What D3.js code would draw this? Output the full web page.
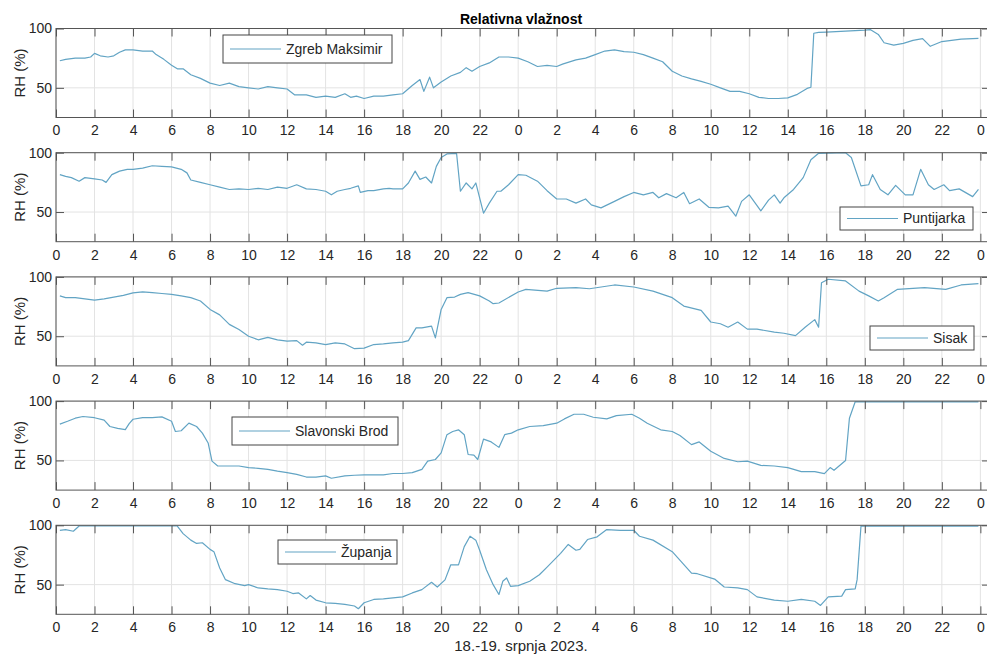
<!DOCTYPE html>
<html>
<head>
<meta charset="utf-8">
<script src="https://cdn.jsdelivr.net/npm/d3@7"></script>
<style>
  body { margin: 0; background: #fff; }
  svg { font-family: "Liberation Sans", Arial, sans-serif; }
</style>
</head>
<body>
<svg id="chart" width="987" height="655"></svg>
<script>
// station names, one panel each (top to bottom)
const stations = ["Zgreb Maksimir", "Puntijarka", "Sisak", "Slavonski Brod", "Županja"]

// [hours since 18.7. 00h, RH %]
const zagreb = [[0.2,72.8],[0.5,74],[1,75],[1.5,75],[1.8,76],[2,79],[2.3,77],[2.7,76],[3,77],[3.3,80],[3.6,82],[4,82],[4.5,81],[5,81],[5.2,78],[5.6,74],[6,69],[6.3,66],[6.6,66],[7,61],[7.5,58],[8,54],[8.5,52],[9,54],[9.5,51],[10,50],[10.5,49],[11,51],[11.5,50],[12,49],[12.4,44],[13,44],[13.5,42],[14,43],[14.5,42],[15,45],[15.3,42],[15.6,43],[16,41],[16.5,43],[17,43],[17.5,44],[18,45],[18.5,52],[18.9,57],[19.1,47],[19.4,59],[19.6,50],[20,55],[20.5,60],[21,63],[21.3,67],[21.6,64],[22,68],[22.5,71],[23,76],[23.5,76],[24,75],[24.5,72],[25,68],[25.5,69],[26,68],[26.3,70],[27,73.5],[27.5,75],[28,78],[28.5,81],[29,82],[29.5,80.5],[30,80],[30.5,78],[31,75],[31.5,72],[32,64],[32.5,60],[33,57.5],[33.5,55.5],[34,53],[34.5,50],[35,47],[35.5,47],[36,45],[36.5,42],[37,41],[37.5,41],[38,41.5],[38.5,44.5],[39,49.5],[39.2,50.5],[39.35,96],[39.6,96.7],[40,97],[41,97.8],[42,98.6],[42.3,99],[42.7,95],[43,88],[43.5,86],[44,87.5],[44.5,90],[45,91.5],[45.4,85],[46,89],[47,91],[47.9,91.7]]

const puntijarka = [[0.2,81.5],[0.5,80],[0.8,79],[1.2,76],[1.5,79],[2,78],[2.4,77],[2.6,75],[2.9,81.5],[3.3,84.5],[3.7,86],[4,86],[4.5,87],[5,89],[5.5,88.5],[6,88],[6.5,86],[6.8,83],[7,77],[7.5,75],[8,73],[8.5,71],[9,69],[9.5,69.5],[10,69],[10.5,70],[11,69],[11.5,71],[12,70],[12.5,73],[13,69.5],[13.5,69],[14,67.5],[14.3,64.5],[14.6,67.5],[15,69],[15.3,70],[15.7,72],[15.8,66.5],[16.2,68],[16.5,68],[17,69.5],[17.3,70],[17.5,69.5],[18,69.5],[18.3,74.5],[18.65,84.5],[18.9,77.5],[19.2,79.5],[19.5,74.5],[19.75,88.5],[20,96],[20.3,99],[20.8,99.5],[21,67.5],[21.3,74.5],[21.6,69.5],[21.8,74.5],[22.2,49],[22.5,57.5],[22.9,67.5],[23.1,67.5],[23.5,73],[24,81.5],[24.4,81],[25,76],[25.5,68],[26,61],[26.5,61],[27,57.5],[27.5,61],[27.8,56],[28.3,53.5],[29,59],[29.5,63],[30,66.5],[30.5,64.5],[31,66.5],[31.3,62],[31.7,65.5],[32.2,62],[32.6,66.5],[32.9,57],[33.4,61],[33.9,54],[34.4,53.5],[34.9,55],[35.3,46.5],[35.6,59],[36,64.5],[36.6,51],[37,60],[37.3,64.5],[37.6,57.5],[37.8,62],[38.3,69],[38.8,79],[39.2,94],[39.6,99.5],[41,100],[41.3,96],[41.8,72],[42.2,73],[42.4,81.5],[42.8,69],[43.2,64.5],[43.6,72.5],[44.1,64.5],[44.5,64.5],[44.9,86],[45.3,73],[45.6,69],[46.1,73],[46.4,68],[46.9,69.5],[47.6,63],[47.9,69]]

const sisak = [[0.2,84],[0.5,82.5],[1,82.5],[1.5,81.5],[2,80.5],[2.5,81.5],[3,83],[3.5,84.5],[4,86.5],[4.5,87.3],[5,86.7],[5.5,86],[6,85.3],[6.5,84],[7,82.5],[7.5,79.7],[8,72.6],[8.5,68],[9,60],[9.5,55.6],[10,50],[10.5,47],[11,49],[11.5,47],[12,45.8],[12.5,46.3],[12.8,42.4],[13,45],[13.5,44.4],[14,43],[14.5,44.4],[15,43.5],[15.5,39.5],[16,40],[16.5,43],[17,43.5],[17.5,44.4],[18,45],[18.3,46.3],[18.7,57],[19,57],[19.5,58.5],[19.7,48.6],[20,72.6],[20.3,82.5],[20.7,83],[21,85.3],[21.4,86.7],[22,84],[22.5,79.7],[22.7,77.4],[23,78],[24,87.3],[24.4,89.5],[25.5,88],[26,90.4],[27,91],[27.7,90],[29,93.2],[30,91.5],[31,88],[32,82.5],[32.6,75.4],[33.5,71.8],[34,62],[34.5,60.5],[34.9,57.6],[35.4,62],[35.9,56],[36.4,56],[37.3,53.4],[37.8,52.5],[38.4,50.5],[38.9,57.6],[39.4,64],[39.6,57.6],[39.75,95],[40.1,98],[41,96.6],[41.7,88],[42.2,84],[42.7,79.7],[43,82.5],[43.7,89.5],[45.1,91],[46.2,89.5],[47,93.2],[47.9,94.4]]

const slavonskiBrod = [[0.2,80.6],[0.6,83],[1,85.6],[1.4,87],[2,86],[2.5,84],[2.8,78.6],[3.2,77],[3.6,76],[3.8,81],[4,84.7],[4.5,86],[5,86],[5.5,86.7],[6,83],[6.2,74.4],[6.5,75],[6.9,81.4],[7.3,78.6],[7.6,73],[7.9,64.7],[8.1,49.4],[8.4,45.3],[9,45.3],[9.5,45.3],[10,44],[10.5,43.3],[11,42.5],[11.5,41],[12,39.7],[12.5,38.3],[13,36],[13.5,36],[14,37],[14.3,35],[15,37],[15.5,37.5],[16,37.8],[17,37.8],[17.5,39],[18,39],[18.5,39.7],[19,42.5],[19.3,49.4],[19.7,50.8],[20,56.4],[20.3,71.7],[20.6,74.4],[20.9,75.8],[21.2,71.7],[21.4,55],[21.7,54.4],[21.9,50.8],[22.2,68],[22.6,65.6],[23,61],[23.3,71.7],[23.65,73],[24,75.8],[24.6,78.6],[25.3,79.4],[26,81.4],[26.4,85],[26.9,88.9],[27.4,88.9],[27.9,86.4],[28.6,85],[29.1,87.8],[29.9,88.9],[30.3,85.6],[30.7,81.4],[31.4,75.8],[32,74.4],[32.4,71],[33,63.3],[33.4,65.6],[34,57.8],[34.7,51.7],[35.4,48.9],[35.9,49.4],[36.6,45.8],[37.3,45.3],[38,44],[38.7,40.6],[39.4,40.6],[39.9,38.9],[40.2,44],[40.4,41.7],[41,50],[41.2,85.6],[41.5,99.4],[47.9,99.4]]

const zupanja = [[0.2,95.8],[0.5,96.4],[0.9,95],[1.2,99.4],[6.3,99.4],[6.6,93],[7,87.5],[7.3,84.7],[7.6,85.3],[8,79.7],[8.2,77.8],[8.5,64],[8.8,54.2],[9.3,50.8],[9.8,49.2],[10,50],[10.5,47.2],[11,46.4],[11.5,45.8],[12,44.4],[12.3,42.5],[12.6,43],[13,38],[13.2,40.8],[13.5,37],[14,34.7],[14.5,34.2],[15,33.3],[15.5,32],[15.7,29.7],[16,34.7],[16.5,37.5],[17,38],[17.5,38.9],[18,39.7],[18.5,43],[19,45.8],[19.5,52],[19.8,48],[20.2,54],[20.5,66.7],[20.9,66.7],[21.2,82],[21.5,90.8],[21.8,87.5],[22,79],[22.35,62.5],[22.7,50],[23,41.7],[23.2,52.8],[23.4,55.6],[23.6,48.6],[24,49.2],[24.6,52.8],[25.1,58.3],[25.5,64.7],[26.2,76.4],[26.6,83.9],[27,79],[27.2,79.7],[27.6,88],[28.1,90.3],[28.6,96.4],[29.3,95.8],[30,95.8],[30.3,90.8],[31,87.5],[32,77.8],[33,59.7],[33.3,59.2],[34.2,54.7],[34.7,48],[35.4,47.2],[35.9,45.8],[36.4,39.7],[37.3,37],[38,36],[38.7,37.5],[39.4,36],[39.7,32.5],[40.1,39.7],[40.8,40.3],[41,45.8],[41.5,46.4],[41.6,54.2],[41.8,99.2],[47.9,99.2]]

// axis ticks
const hourTicks = [0,2,4,6,8,10,12,14,16,18,20,22,24,26,28,30,32,34,36,38,40,42,44,46,48]
const hourTickLabels = ["0","2","4","6","8","10","12","14","16","18","20","22","0","2","4","6","8","10","12","14","16","18","20","22","0"]
const rhTicks = [50, 100]

const chartTitle = "Relativna vlažnost"
const xTitle = "18.-19. srpnja 2023."
const yTitle = "RH (%)"

// ---- layout ----
let seriesList = [zagreb, puntijarka, sisak, slavonskiBrod, zupanja]
let plotLeft = 56, plotRight = 990
let firstTop = 28.5, panelStep = 124.2, panelH = 89
// legend box per panel: x, y, width, height
let legendBoxes = [[223,35,169,28],[840,207,133,23],[870,326,104,24],[232,417,166,28],[278,540,119,24]]
let lineColor = "#62a4c4"
let axisColor = "#555"

let svg = d3.select("#chart")
let x = d3.scaleLinear().domain([0, 48.5]).range([plotLeft, plotRight])

seriesList.forEach((data, i) => {
    let top = firstTop + i * panelStep
    let y = d3.scaleLinear().domain([25, 100]).range([top + panelH, top])
    let g = svg.append("g")

    // clip so the trace can sit on the top border without leaking out
    svg.append("clipPath").attr("id", "clip" + i)
        .append("rect").attr("x", plotLeft).attr("y", top - 1)
        .attr("width", plotRight - plotLeft).attr("height", panelH + 2)

    // grid
    g.selectAll(".vgrid").data(hourTicks).enter().append("line")
        .attr("x1", d => x(d)).attr("x2", d => x(d))
        .attr("y1", top).attr("y2", top + panelH)
        .attr("stroke", "#e3e3e3").attr("stroke-width", 1)
    g.selectAll(".hgrid").data(rhTicks).enter().append("line")
        .attr("x1", plotLeft).attr("x2", plotRight)
        .attr("y1", d => y(d)).attr("y2", d => y(d))
        .attr("stroke", "#e3e3e3").attr("stroke-width", 1)

    // trace
    let line = d3.line().x(d => x(d[0])).y(d => y(d[1]))
    g.append("path").datum(data)
        .attr("clip-path", `url(#clip${i})`)
        .attr("d", line)
        .attr("fill", "none")
        .attr("stroke", lineColor)
        .attr("stroke-width", 1.2)
        .attr("stroke-linejoin", "round")

    // axes, ticks pointing inward on every side
    let bottom = g.append("g").attr("transform", `translate(0,${top + panelH})`)
        .call(d3.axisBottom(x).tickValues(hourTicks)
            .tickFormat(d => hourTickLabels[hourTicks.indexOf(d)])
            .tickSizeInner(-8).tickSizeOuter(0).tickPadding(8))
    let topAx = g.append("g").attr("transform", `translate(0,${top})`)
        .call(d3.axisTop(x).tickValues(hourTicks).tickFormat("")
            .tickSizeInner(-8).tickSizeOuter(0))
    let leftAx = g.append("g").attr("transform", `translate(${plotLeft},0)`)
        .call(d3.axisLeft(y).tickValues(rhTicks)
            .tickSizeInner(-8).tickSizeOuter(0).tickPadding(4))
    let rightAx = g.append("g").attr("transform", `translate(${plotRight},0)`)
        .call(d3.axisRight(y).tickValues(rhTicks).tickFormat("")
            .tickSizeInner(-8).tickSizeOuter(0))
    ;[bottom, topAx, leftAx, rightAx].forEach(a => {
        a.select(".domain").remove()
        a.selectAll(".tick line").attr("stroke", axisColor)
        a.selectAll("text").attr("fill", "#262626").style("font-size", "14px")
            .style("font-family", '"Liberation Sans", Arial, sans-serif')
    })

    // box
    g.append("rect").attr("x", plotLeft).attr("y", top)
        .attr("width", plotRight - plotLeft).attr("height", panelH)
        .attr("fill", "none").attr("stroke", axisColor).attr("stroke-width", 1)

    // y label
    g.append("text")
        .attr("transform", `translate(20,${top + panelH / 2}) rotate(-90)`)
        .attr("text-anchor", "middle").attr("dy", "0.35em")
        .style("font-size", "15px").attr("fill", "#262626")
        .text(yTitle)

    // legend
    let lb = legendBoxes[i]
    let leg = g.append("g").attr("transform", `translate(${lb[0]},${lb[1]})`)
    leg.append("rect").attr("width", lb[2]).attr("height", lb[3])
        .attr("fill", "#fff").attr("stroke", "#444").attr("stroke-width", 1)
    leg.append("line").attr("x1", 7).attr("x2", 58)
        .attr("y1", lb[3] / 2).attr("y2", lb[3] / 2)
        .attr("stroke", lineColor).attr("stroke-width", 1.2)
    leg.append("text").attr("x", 63).attr("y", lb[3] / 2).attr("dy", "0.35em")
        .style("font-size", "14px").attr("fill", "#262626")
        .text(stations[i])
})

// titles
svg.append("text").attr("x", 521).attr("y", 24)
    .attr("text-anchor", "middle").style("font-size", "14px").style("font-weight", "bold")
    .attr("fill", "#000").text(chartTitle)
svg.append("text").attr("x", 521).attr("y", 651)
    .attr("text-anchor", "middle").style("font-size", "15px")
    .attr("fill", "#262626").text(xTitle)
</script>
</body>
</html>
